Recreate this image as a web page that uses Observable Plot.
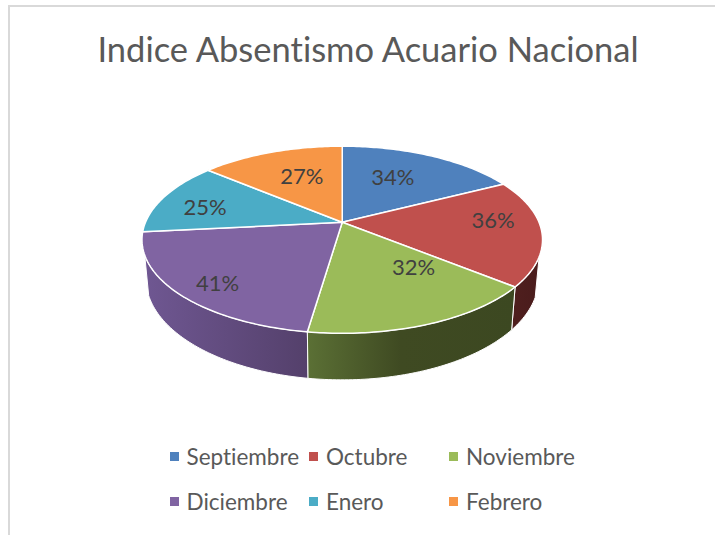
<!DOCTYPE html>
<html lang="es">
<head>
<meta charset="utf-8">
<script src="https://cdn.jsdelivr.net/npm/d3@7"></script>
<script src="https://cdn.jsdelivr.net/npm/@observablehq/plot@0.6"></script>
<style>
  html, body { margin: 0; padding: 0; background: #fff; overflow: hidden; }
  body { width: 715px; height: 535px; position: relative; font-family: Lato, "Open Sans", sans-serif; font-variant-ligatures: none; }
  #frame { position: absolute; left: 8px; top: 5px; right: 0; bottom: 0; border-left: 2px solid #d9d9d9; border-top: 2px solid #d9d9d9; }
  #title { position: absolute; left: 0; width: 736px; top: 27px; text-align: center; font-size: 34.5px; line-height: 44px; color: #595959; white-space: nowrap; }
  #chart { position: absolute; left: 0; top: 100px; }
  #legend { position: absolute; left: 169.5px; top: 434px; display: grid; grid-template-columns: 139.5px 140px 130px; grid-auto-rows: 45px; font-size: 22.5px; color: #595959; }
  #legend div { display: flex; align-items: center; white-space: nowrap; }
  #legend i { display: inline-block; width: 9px; height: 9px; margin-right: 8px; }
  svg text { font-variant-ligatures: none; }
</style>
</head>
<body>
<div id="frame"></div>
<div id="title"></div>
<div id="chart"></div>
<div id="legend"></div>
<script>
const chartTitle = "Indice Absentismo Acuario Nacional";
const months = ["Septiembre", "Octubre", "Noviembre", "Diciembre", "Enero", "Febrero"];
const values = [34, 36, 32, 41, 25, 27];
const labels = ["34%", "36%", "32%", "41%", "25%", "27%"];
const colors = ["#4f81bd", "#c0504d", "#9bbb59", "#8064a2", "#4bacc6", "#f79646"];

// layout: label nudges from the mid-slice anchor, in disc units
const labelNudgeX = [-0.05, 0.112, 0.097, -0.122, -0.097, 0.041];
const labelNudgeY = [-0.011, 0.078, 0.177, -0.188, -0.028, -0.033];

// perspective tilt of the disc, and the visible stretch of its side wall (degrees)
const tilt = 0.187;
const wallStart = 111, wallEnd = 250;
const floorScaleX = 0.98, floorScaleY = 1.08, floorShift = -0.418;

const total = d3.sum(values);
const ends = Array.from(d3.cumsum(values), (v) => (v / total) * 360);
const starts = [0, ...ends.slice(0, -1)];

const rad = (deg) => (deg * Math.PI) / 180;
const project = (deg, r = 1) => {
  const u = r * Math.sin(rad(deg)), v = r * Math.cos(rad(deg)), w = 1 + tilt * v;
  return [u / w, v / w];
};
const arcDegrees = (a, b) => {
  const n = Math.max(2, Math.ceil(Math.abs(b - a)));
  return d3.range(n + 1).map((i) => a + ((b - a) * i) / n);
};

const topFaces = months.flatMap((month, i) => {
  const pts = [[0, 0], ...arcDegrees(starts[i], ends[i]).map((d) => project(d)), [0, 0]];
  return pts.map(([x, y]) => ({ month, x, y }));
});

const wall = (i) => {
  const a = Math.max(starts[i], wallStart), b = Math.min(ends[i], wallEnd);
  const rim = arcDegrees(a, b).map((d) => project(d));
  const floor = rim.map(([x, y]) => [x * floorScaleX, y * floorScaleY + floorShift]).reverse();
  return [...rim, ...floor, rim[0]].map(([x, y]) => ({ x, y }));
};

const labelRows = months.map((month, i) => {
  const [x, y] = project((starts[i] + ends[i]) / 2, 0.65);
  return { month, label: labels[i], x: x + labelNudgeX[i], y: y + labelNudgeY[i] };
});

const gradients = () => {
  const ns = "http://www.w3.org/2000/svg";
  const defs = document.createElementNS(ns, "defs");
  const add = (id, stops) => {
    const g = document.createElementNS(ns, "linearGradient");
    g.setAttribute("id", id);
    for (const [offset, color] of stops) {
      const s = document.createElementNS(ns, "stop");
      s.setAttribute("offset", offset);
      s.setAttribute("stop-color", color);
      g.appendChild(s);
    }
    defs.appendChild(g);
  };
  add("wall-oct", [[0, "#4f1f1e"], [1, "#4a1c1c"]]);
  add("wall-nov", [[0, "#5b7035"], [0.45, "#3f4a22"], [1, "#3c4821"]]);
  add("wall-dic", [[0, "#6f5792"], [1, "#54406b"]]);
  return defs;
};

const wallMark = (i, id) => Plot.line(wall(i), {
  x: "x", y: "y", fill: `url(#${id})`, stroke: "white", strokeWidth: 1, curve: "linear"
});

const chart = Plot.plot({
  width: 715,
  height: 300,
  margin: 0,
  x: { axis: null, domain: [-1, 1], range: [145, 538.5] },
  y: { axis: null, domain: [-1, 1], range: [212, 31.5] },
  color: { domain: months, range: colors },
  marks: [
    gradients,
    wallMark(1, "wall-oct"),
    wallMark(3, "wall-dic"),
    wallMark(2, "wall-nov"),
    Plot.line(topFaces, {
      x: "x", y: "y", z: "month", fill: "month", stroke: "white", strokeWidth: 1.5,
      strokeLinejoin: "round", curve: "linear"
    }),
    Plot.text(labelRows, {
      x: "x", y: "y", text: "label",
      fontSize: 22, fontFamily: "Lato", fill: "#404040"
    })
  ]
});
document.getElementById("chart").appendChild(chart);
document.getElementById("title").textContent = chartTitle;
const legend = document.getElementById("legend");
months.forEach((m, i) => {
  const item = document.createElement("div");
  const box = document.createElement("i");
  box.style.background = colors[i];
  item.appendChild(box);
  item.appendChild(document.createTextNode(m));
  legend.appendChild(item);
});
</script>
</body>
</html>
